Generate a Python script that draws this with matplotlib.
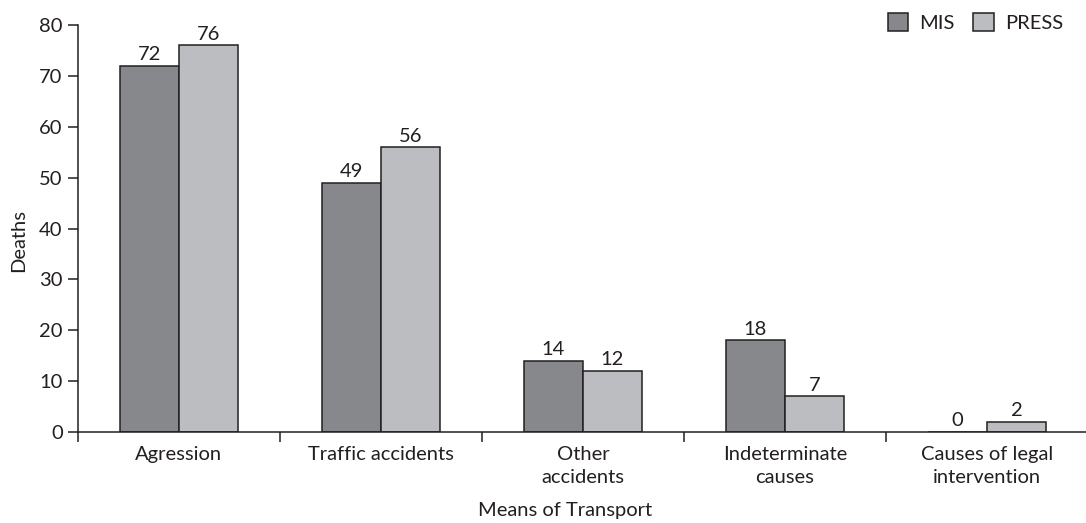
import numpy as np
import matplotlib
matplotlib.use('Agg')
import matplotlib.pyplot as plt
from matplotlib.ticker import FixedLocator, NullFormatter

categories = ['Agression', 'Traffic accidents', 'Other\naccidents',
              'Indeterminate\ncauses', 'Causes of legal\nintervention']
mis = [72, 49, 14, 18, 0]
press = [76, 56, 12, 7, 2]
series_names = ['MIS', 'PRESS']

plt.rcParams['font.family'] = ['Lato', 'DejaVu Sans']
edge = '#231f20'
txt = '#231f20'
fs = 14.5

fig = plt.figure(figsize=(10.86, 5.23), dpi=100, facecolor='w')
ax = fig.add_axes([0.0718, 0.174, 0.93, 0.778])

x = np.arange(len(categories))
w = 0.292
b1 = ax.bar(x - w/2, mis, w, color='#87888c', edgecolor=edge, linewidth=1.1, label=series_names[0])
b2 = ax.bar(x + w/2, press, w, color='#bcbdc1', edgecolor=edge, linewidth=1.1, label=series_names[1])

for bars, vals in ((b1, mis), (b2, press)):
    for r, v in zip(bars, vals):
        ax.text(r.get_x() + r.get_width()/2, v + 0.5, str(v), ha='center', va='bottom',
                fontsize=fs, color=txt)

ax.set_xlim(-0.5, len(categories) - 0.5)
ax.set_ylim(0, 80)
ax.set_yticks(range(0, 81, 10))
ax.tick_params(axis='y', direction='out', length=7, width=1.1, labelsize=fs,
               colors=txt, pad=4)

# category labels at centers, tick marks at group boundaries
ax.xaxis.set_major_locator(FixedLocator(np.arange(-0.5, len(categories), 1.0)))
ax.xaxis.set_major_formatter(NullFormatter())
ax.xaxis.set_minor_locator(FixedLocator(x))
ax.set_xticklabels(categories, minor=True)
ax.tick_params(axis='x', which='major', direction='out', length=7, width=1.1, color=edge)
ax.tick_params(axis='x', which='minor', length=0, labelsize=fs, labelcolor=txt, pad=10)
for lbl in ax.get_xticklabels(minor=True):
    lbl.set_linespacing(1.45)

for s in ('top', 'right'):
    ax.spines[s].set_visible(False)
for s in ('left', 'bottom'):
    ax.spines[s].set_color(edge)
    ax.spines[s].set_linewidth(1.1)

ax.set_ylabel('Deaths', fontsize=fs, color=txt)
ax.yaxis.set_label_coords(-0.05, 0.47)
ax.set_xlabel('Means of Transport', fontsize=fs, color=txt)
ax.xaxis.set_label_coords(0.482, -0.172)

leg = ax.legend(loc='upper right', bbox_to_anchor=(0.993, 1.075), ncol=2, frameon=False,
                fontsize=fs, handlelength=1.0, handleheight=1.0, handletextpad=0.55,
                columnspacing=0.95, labelcolor=txt)

fig.savefig('out.png', dpi=100)
